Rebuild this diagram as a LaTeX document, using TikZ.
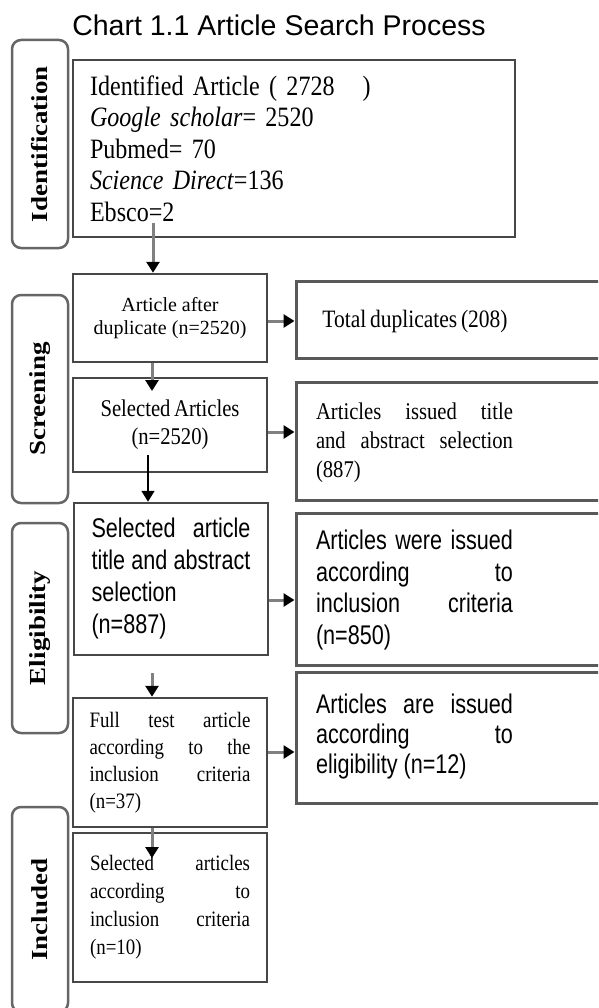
\documentclass[tikz,border=0pt]{standalone}
\usepackage{fontspec}
\setmainfont{Liberation Serif}
\newfontfamily\serifn[FakeStretch=0.86]{Liberation Serif}
\newfontfamily\serifw[FakeStretch=0.86,WordSpace=0.7]{Liberation Serif}
\newfontfamily\sansn[FakeStretch=0.8]{Liberation Sans}
\newfontfamily\sansf{Liberation Sans}
\usetikzlibrary{arrows.meta}
\tolerance=10000
\hbadness=10000
\hyphenpenalty=10000
\begin{document}
\begin{tikzpicture}[x=1pt,y=-1pt,
  mainbox/.style={draw=black!72,line width=2.5pt,inner sep=0pt},
  sidebox/.style={draw=black!65,line width=3pt,inner sep=0pt},
  phasebox/.style={draw=black!60,line width=2.5pt,rounded corners=9pt,inner sep=0pt,minimum width=56pt},
  phaselabel/.style={rotate=90,font=\bfseries\fontsize{27}{30}\selectfont,inner sep=0pt},
  arrg/.style={draw=black!50,line width=3pt,-{Triangle[length=11pt,width=13pt,color=black,fill=black]}},
  arrk/.style={draw=black,line width=1.6pt,-{Triangle[length=11pt,width=13pt,color=black,fill=black]}},
  jtext/.style={align=justify,inner sep=0pt}
]
\useasboundingbox (0,0) rectangle (598,1008);
\clip (0,0) rectangle (598,1008);
\fill[white] (0,0) rectangle (598,1008);

% title
\node[font=\sansf\fontsize{28.5}{30}\selectfont,inner sep=0pt] (title) at (279,25) {Chart 1.1 Article Search Process};

% phase boxes
\node[phasebox,minimum height=208pt] (p1) at (40,144) {};
\node[phaselabel] (l1) at (p1.center) {\scalebox{1}[0.85]{Identification}};
\node[phasebox,minimum height=208pt] (p2) at (40,399) {};
\node[phaselabel] (l2) at (p2.center) {\scalebox{1}[0.85]{Screening}};
\node[phasebox,minimum height=210pt] (p3) at (40,628) {};
\node[phaselabel] (l3) at (p3.center) {\scalebox{1}[0.85]{Eligibility}};
\node[phasebox,minimum height=205pt] (p4) at (40,909.5) {};
\node[phaselabel] (l4) at (p4.center) {\scalebox{1}[0.85]{Included}};

% left column boxes
\node[mainbox,minimum width=442pt,minimum height=177pt,text width=408pt,align=left,
      font=\serifw\fontsize{28}{31.5}\selectfont] (b1) at (294,148.5)
  {Identified Article ( 2728\hspace{28pt})\\
   \textit{Google scholar}= 2520\\
   Pubmed= 70\\
   \textit{Science Direct}=136\\
   Ebsco=2};
\node[mainbox,minimum width=194pt,minimum height=88pt,align=center,
      font=\fontsize{20}{23}\selectfont] (b2) at (170,318)
  {Article after\\duplicate (n=2520)};
\node[mainbox,minimum width=194pt,minimum height=94pt,align=center,
      font=\serifn\fontsize{24}{28}\selectfont] (b3) at (170,425)
  {Selected Articles\\(n=2520)};
\node[mainbox,minimum width=194pt,minimum height=152pt,text width=159pt,align=justify,
      font=\sansn\fontsize{27}{32}\selectfont] (b4) at (171,579)
  {Selected article\linebreak title and abstract\linebreak selection\linebreak (n=887)};
\node[mainbox,minimum width=194pt,minimum height=129pt,text width=161pt,align=justify,
      font=\serifn\fontsize{22}{27}\selectfont] (b5) at (170,762.5)
  {Full test article\linebreak according to the\linebreak inclusion criteria\linebreak (n=37)};
\node[mainbox,minimum width=194pt,minimum height=149pt,text width=160pt,align=justify,
      font=\serifn\fontsize{22}{28}\selectfont] (b6) at (170,907.5)
  {Selected articles\linebreak according to\linebreak inclusion criteria\linebreak (n=10)};

% right column boxes
\node[sidebox,minimum width=314pt,minimum height=77pt] (r1) at (453,319.5) {};
\node[inner sep=0pt,font=\serifn\fontsize{25}{28}\selectfont] (t1) at (415,321) {Total duplicates (208)};
\node[sidebox,minimum width=314pt,minimum height=118pt] (r2) at (453,441) {};
\node[jtext,text width=197pt,font=\serifn\fontsize{24}{29}\selectfont] (t2) at (414.5,443)
  {Articles issued title\linebreak and abstract selection\linebreak (887)};
\node[sidebox,minimum width=314pt,minimum height=152pt] (r3) at (453,589) {};
\node[jtext,text width=197pt,font=\sansn\fontsize{27}{31.5}\selectfont] (t3) at (414.5,590)
  {Articles were issued\linebreak according to\linebreak inclusion criteria\linebreak (n=850)};
\node[sidebox,minimum width=314pt,minimum height=131pt] (r4) at (453,737.5) {};
\node[jtext,text width=197pt,font=\sansn\fontsize{27}{30}\selectfont] (t4) at (414.5,737)
  {Articles are issued\linebreak according to\linebreak eligibility (n=12)};

% vertical connectors
\coordinate (a1s) at (153,223);
\draw[arrg] (a1s) -- (a1s |- b2.north);
\coordinate (a2e) at (152,391);
\draw[arrg] (b2.south -| a2e) -- (a2e);
\coordinate (a3s) at (148,455);
\draw[arrk] (a3s) -- (a3s |- b4.north);
\coordinate (a4s) at (152,673);
\draw[arrg] (a4s) -- (a4s |- b5.north);
\coordinate (a5e) at (152,858);
\draw[arrg] (b5.south -| a5e) -- (a5e);

% horizontal connectors
\coordinate (h1) at (0,321);
\coordinate (h2) at (0,432);
\coordinate (h3) at (0,600);
\coordinate (h4) at (0,752);
\draw[arrg] (b2.east |- h1) -- (r1.west |- h1);
\draw[arrg] (b3.east |- h2) -- (r2.west |- h2);
\draw[arrg] (b4.east |- h3) -- (r3.west |- h3);
\draw[arrg] (b5.east |- h4) -- (r4.west |- h4);
\end{tikzpicture}
\end{document}
